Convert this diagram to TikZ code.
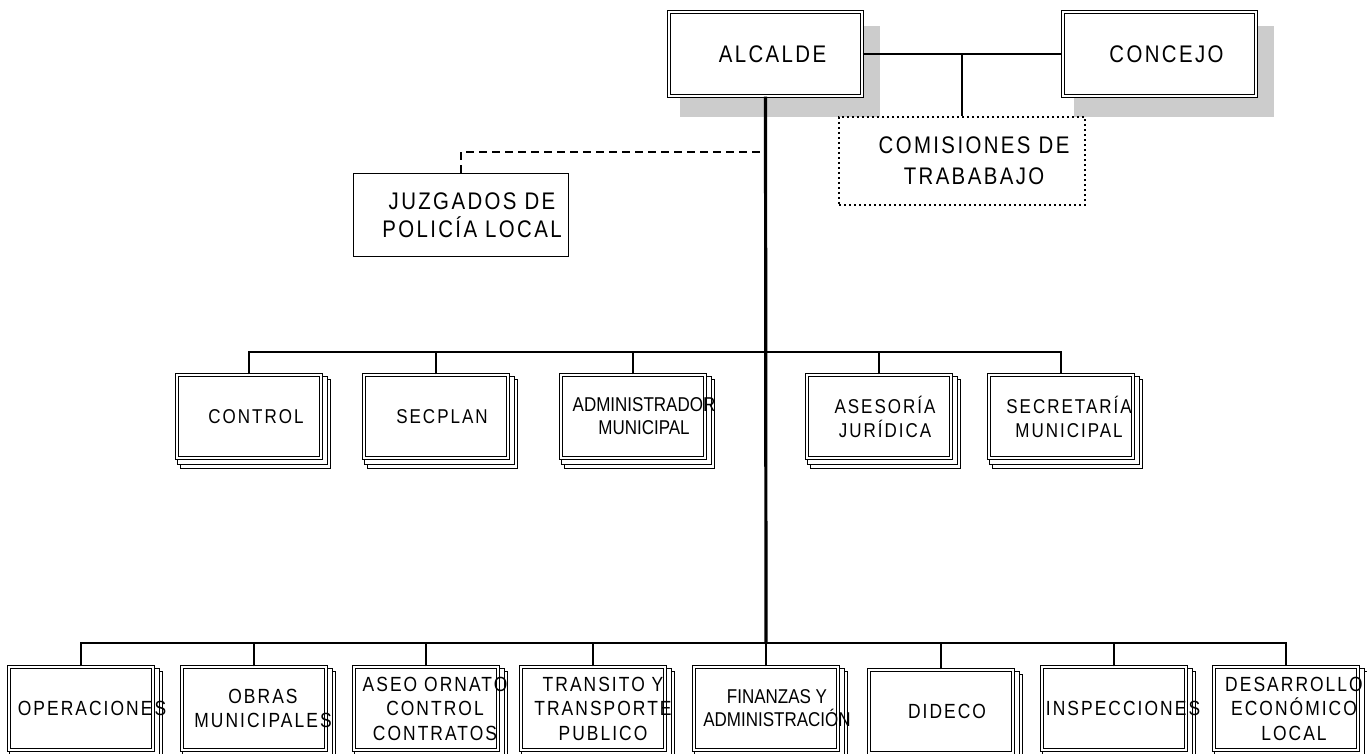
\documentclass[tikz,border=0pt]{standalone}
\usepackage{fontspec}
\setmainfont{Liberation Sans}
\newfontfamily\spfont[FakeStretch=0.85,LetterSpace=10]{Liberation Sans}
\newfontfamily\nwfont[FakeStretch=0.85]{Liberation Sans}
\usetikzlibrary{calc,backgrounds}
\tikzset{
  dbox/.style={rectangle, draw=black, line width=1.1pt, double=white, double distance=1.6pt, fill=white, inner sep=0pt},
  topbox/.style={dbox, minimum width=193.2pt, minimum height=84.2pt},
  unitbox/.style={dbox, minimum width=144.2pt, minimum height=83.2pt},
  plainbox/.style={rectangle, draw=black, line width=1pt, fill=white, inner sep=0pt},
  dotbox/.style={rectangle, draw=black, line width=1.6pt, dash pattern=on 1.6pt off 3.4pt, inner sep=0pt},
  stackline/.style={draw=black, fill=white, line width=1pt},
  shadowfill/.style={fill=black!20},
  conn/.style={line width=1.3pt},
  trunk/.style={line width=3.2pt},
  dashln/.style={line width=2.5pt, dash pattern=on 8pt off 5pt},
  tbig/.style={font=\spfont\fontsize{24}{31}\selectfont, align=center},
  tjuz/.style={font=\spfont\fontsize{24}{28}\selectfont, align=center},
  tmid/.style={font=\spfont\fontsize{20}{24}\selectfont, align=center},
  tnar/.style={font=\nwfont\fontsize{20}{23}\selectfont, align=center},
  tbot/.style={font=\spfont\fontsize{20.5}{24.5}\selectfont, align=center},
}
\begin{document}
\begin{tikzpicture}[x=1pt,y=-1pt]
\useasboundingbox (0,0) rectangle (1367,754);

% top level
\node[topbox, label={[tbig,xshift=7pt]center:ALCALDE}] (alcalde) at (765.5,54) {};
\node[topbox, label={[tbig,xshift=7pt]center:CONCEJO}] (concejo) at (1159.5,54) {};
\node[dotbox, minimum width=246pt, minimum height=88pt,
      label={[tbig,xshift=12pt]center:{COMISIONES DE\\TRABABAJO}}] (comisiones) at (962,161) {};
\node[plainbox, minimum width=215pt, minimum height=83pt,
      label={[tjuz,xshift=11pt]center:{JUZGADOS DE\\POLICÍA LOCAL}}] (juzgados) at (461,215) {};

% middle row
\node[unitbox, label={[tmid,xshift=7pt]center:CONTROL}] (control) at (249,416.5) {};
\node[unitbox, label={[tmid,xshift=6pt]center:SECPLAN}] (secplan) at (436,416.5) {};
\node[unitbox, label={[tnar,xshift=11pt]center:{ADMINISTRADOR\\MUNICIPAL}}] (admin) at (633,416.5) {};
\node[unitbox, label={[tmid,xshift=6pt]center:{ASESORÍA\\JURÍDICA}}] (asesoria) at (879,416.5) {};
\node[unitbox, label={[tmid,xshift=8pt]center:{SECRETARÍA\\MUNICIPAL}}] (secretaria) at (1061,416.5) {};

% bottom row
\node[unitbox, label={[tbot,xshift=11pt]center:OPERACIONES}] (oper) at (81,708.5) {};
\node[unitbox, label={[tbot,xshift=9pt]center:{OBRAS\\MUNICIPALES}}] (obras) at (254,708.5) {};
\node[unitbox, label={[tbot,xshift=9pt]center:{ASEO ORNATO\\CONTROL\\CONTRATOS}}] (aseo) at (426,708.5) {};
\node[unitbox, label={[tbot,xshift=10pt]center:{TRANSITO Y\\TRANSPORTE\\PUBLICO}}] (transito) at (593,708.5) {};
\node[unitbox, label={[tnar,xshift=11pt]center:{FINANZAS Y\\ADMINISTRACIÓN}}] (finanzas) at (766,708.5) {};
\node[unitbox, label={[tbot,xshift=6pt]center:DIDECO}] (dideco) at (941,711.5) {};
\node[unitbox, label={[tbot,xshift=9pt]center:INSPECCIONES}] (inspecciones) at (1114,708.5) {};
\node[unitbox, label={[tbot,xshift=8pt]center:{DESARROLLO\\ECONÓMICO\\LOCAL}}] (desarrollo) at (1286,708.5) {};

% shadows and stacked copies
\begin{scope}[on background layer]
  \foreach \n in {alcalde,concejo}
    \fill[shadowfill] ($(\n.north west)+(12,15)$) rectangle ($(\n.south east)+(17,20)$);
  \foreach \n in {control,secplan,admin,asesoria,secretaria,oper,obras,aseo,transito,finanzas,dideco,inspecciones,desarrollo}
    \foreach \d/\e in {6.5/7.5,3.5/4}
      \draw[stackline] ($(\n.north west)+(-1.9+\d,-1.9+\e)$) rectangle ($(\n.south east)+(1.9+\d,1.9+\e)$);
\end{scope}

% coordinates
\coordinate (dashend) at (766,152);
\coordinate (midbus) at (766,352);
\coordinate (botbus) at (766,643);

% connectors
\draw[conn] (alcalde.east) -- (concejo.west);
\draw[conn] (comisiones.north) -- (comisiones.north |- alcalde.east);
\draw[trunk] (alcalde.south) -- (botbus);
\draw[dashln] (juzgados.north) |- (dashend);

\draw[conn] (control.north) |- (midbus) -| (secretaria.north);
\foreach \n in {secplan,admin,asesoria}
  \draw[conn] (\n.north) -- (\n.north |- midbus);

\draw[conn] (oper.north) |- (botbus) -| (desarrollo.north);
\foreach \n in {obras,aseo,transito,finanzas,dideco,inspecciones}
  \draw[conn] (\n.north) -- (\n.north |- botbus);
\end{tikzpicture}
\end{document}
